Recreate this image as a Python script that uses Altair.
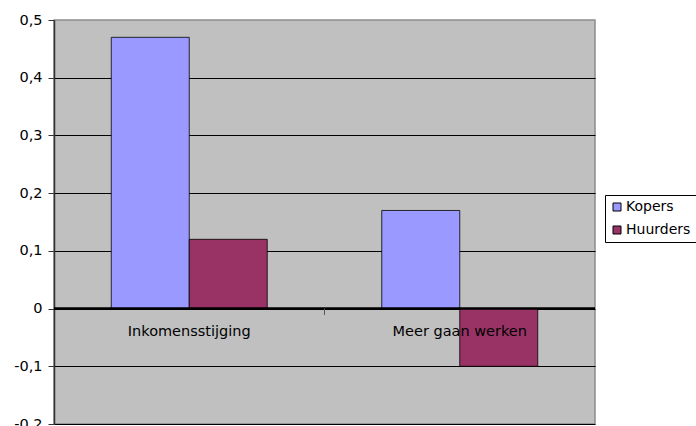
import altair as alt
import pandas as pd

# Effect per category, for buyers (Kopers) and renters (Huurders)
categories = ["Inkomensstijging", "Meer gaan werken"]
series = ["Kopers", "Huurders"]
kopers = [0.47, 0.17]
huurders = [0.12, -0.10]

colors = ["#9999FF", "#993366"]
FONT = "DejaVu Sans"
FS = 14.5

rows = []
for i, cat in enumerate(categories):
    rows.append({"cat": cat, "serie": "Kopers", "value": kopers[i]})
    rows.append({"cat": cat, "serie": "Huurders", "value": huurders[i]})
df = pd.DataFrame(rows)
cat_df = pd.DataFrame({"cat": categories})

x_scale = alt.Scale(domain=categories, paddingInner=0, paddingOuter=0)
y_scale = alt.Scale(domain=[-0.2, 0.5], nice=False, zero=False)

y_axis = alt.Axis(
    values=[-0.2, -0.1, 0, 0.1, 0.2, 0.3, 0.4, 0.5],
    labelExpr="datum.value == 0 ? '0' : replace(replace(format(datum.value, '.1f'), '.', ','), '\u2212', '-')",
    title=None,
    grid=True,
    gridColor="#000000",
    gridOpacity={"condition": {"test": "datum.value >= 0.5", "value": 0}, "value": 1},
    gridWidth=1,
    tickSize=6,
    tickColor="#333333",
    labelPadding=6,
    domainColor="#333333",
    domainWidth=1.5,
    labelFont=FONT,
    labelFontSize=FS,
    labelColor="#000000",
)

bars = alt.Chart(df).mark_bar(stroke="#000000", strokeWidth=0.8).encode(
    x=alt.X("cat:N", scale=x_scale, axis=None, sort=categories),
    xOffset=alt.XOffset("serie:N", sort=series,
                        scale=alt.Scale(domain=series, paddingInner=0, paddingOuter=0.734)),
    y=alt.Y("value:Q", scale=y_scale, axis=y_axis),
    color=alt.Color(
        "serie:N",
        sort=series,
        scale=alt.Scale(domain=series, range=colors),
        legend=alt.Legend(
            title=None,
            orient="none",
            legendX=551,
            legendY=175,
            symbolType="square",
            symbolSize=64,
            symbolStrokeColor="#000000",
            symbolStrokeWidth=1,
            labelFont=FONT,
            labelFontSize=14,
            labelColor="#000000",
            labelOffset=2,
            strokeColor="#000000",
            padding=5,
            rowPadding=9,
        ),
    ),
)

zero_line = alt.Chart(cat_df).mark_rule(color="#000000", strokeWidth=2).encode(
    y=alt.datum(0, scale=y_scale),
)

# small tick marks between categories on the category axis
cat_ticks = alt.Chart(pd.DataFrame({"cat": categories[1:]})).mark_rule(
    color="#555555", strokeWidth=1
).encode(
    x=alt.X("cat:N", scale=x_scale, axis=None, bandPosition=0),
    y=alt.datum(0, scale=y_scale),
    y2=alt.datum(-0.011),
)

cat_labels = alt.Chart(cat_df).mark_text(
    font=FONT, fontSize=FS, color="#000000", baseline="alphabetic", dy=27
).encode(
    x=alt.X("cat:N", scale=x_scale, axis=None),
    y=alt.datum(0, scale=y_scale),
    text="cat:N",
)

chart = (
    alt.layer(bars, zero_line, cat_ticks, cat_labels)
    .properties(
        width=541,
        height=404,
        autosize=alt.AutoSizeParams(type="none"),
        padding={"left": 54, "top": 20, "right": 101, "bottom": 2},
        background="#FFFFFF",
    )
    .configure_view(fill="#C0C0C0", stroke="#8C8C8C", strokeWidth=1.5)
)

chart.save("out.html", embed_options={"renderer": "svg", "actions": False})
